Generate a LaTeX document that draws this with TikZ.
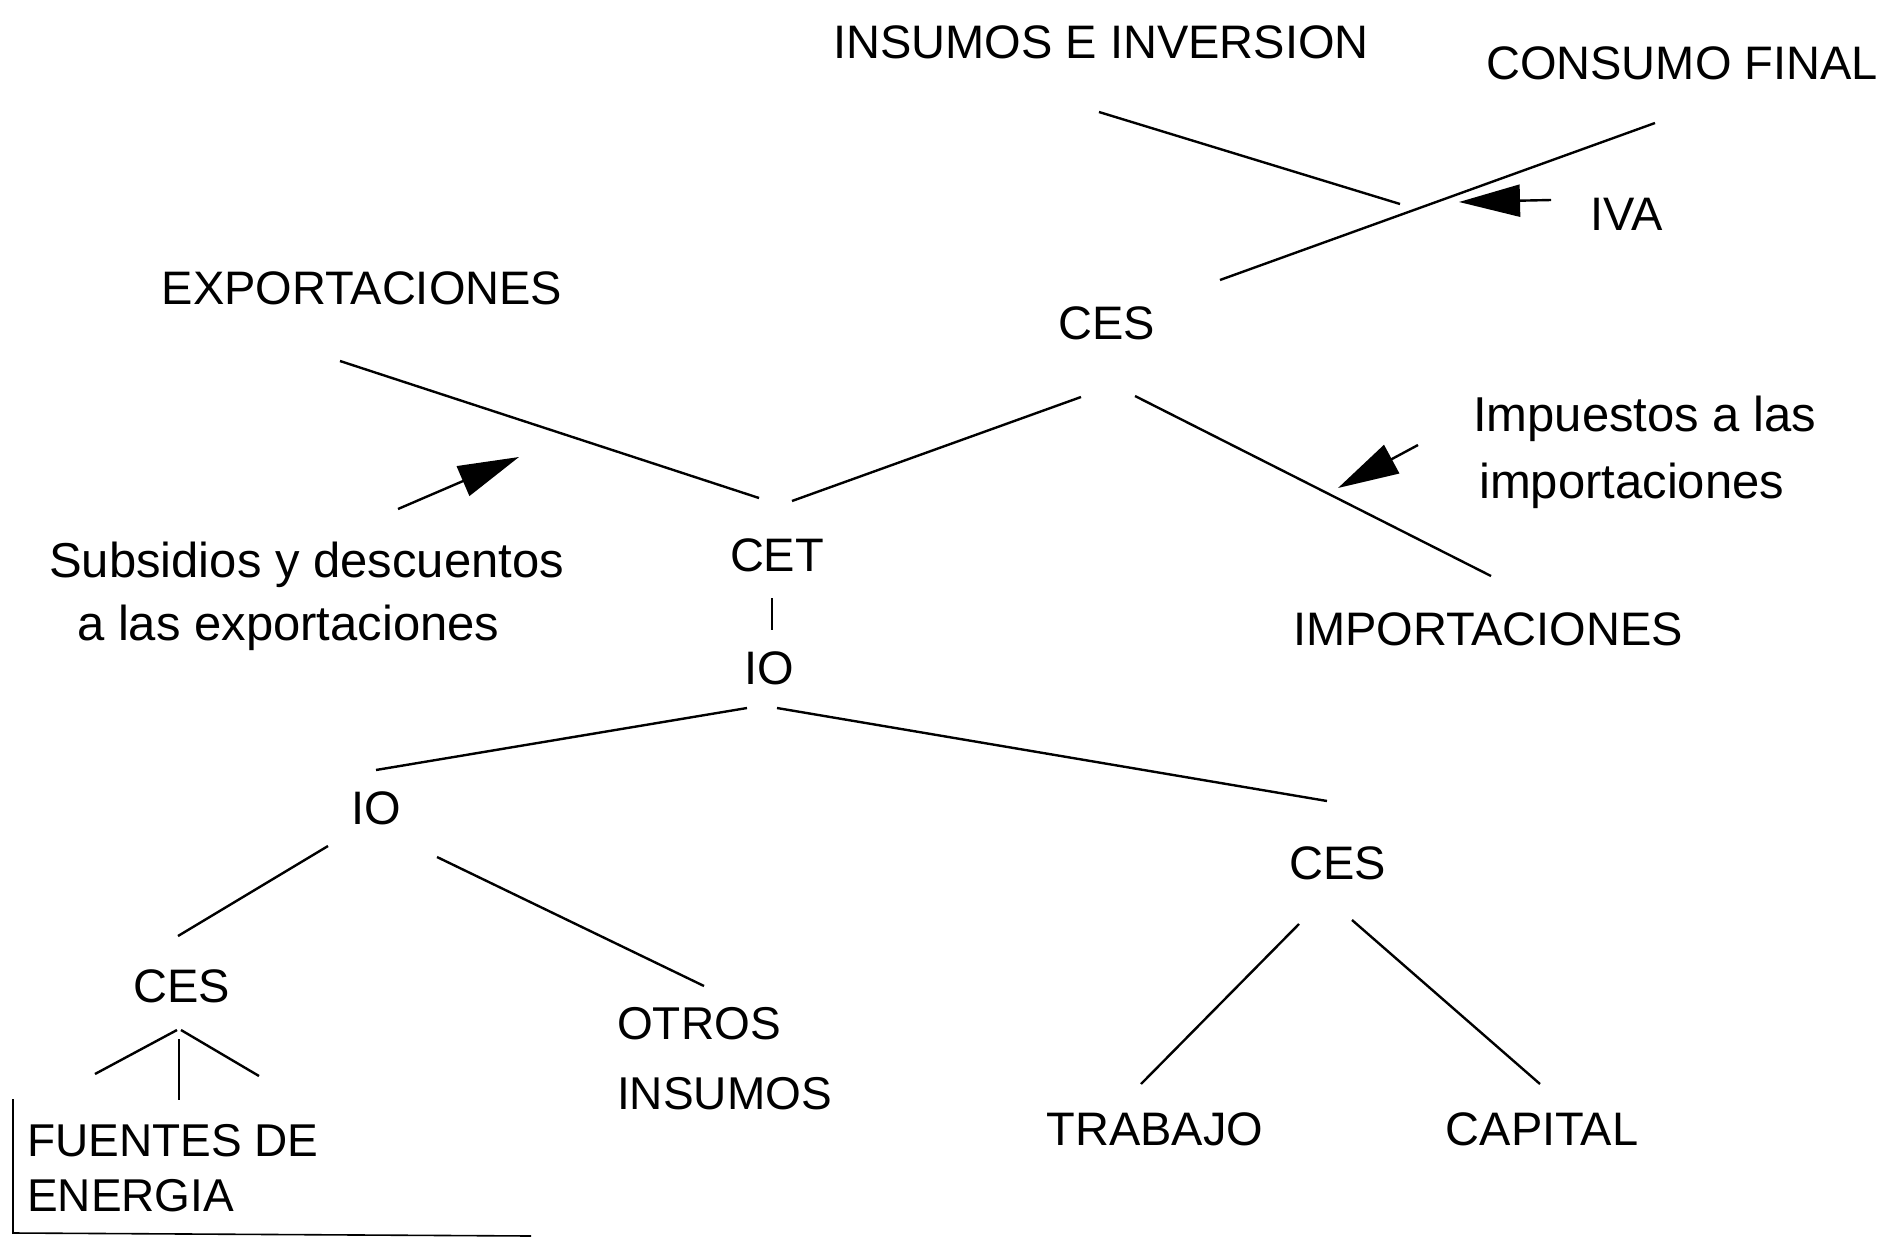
\documentclass[tikz,border=0pt]{standalone}
\usepackage{fontspec}
\setmainfont{Liberation Sans}
\usetikzlibrary{arrows.meta,calc}
\begin{document}
\begin{tikzpicture}[x=1pt,y=-1pt,
  lbl/.style={inner sep=0pt,font=\fontsize{47}{55}\selectfont},
  lbl2/.style={inner sep=0pt,font=\fontsize{49}{67}\selectfont},
  ln/.style={line width=2.4pt},
  arr/.style={line width=2.4pt,-{Triangle[length=61pt,width=32pt]}}]
\useasboundingbox (0,0) rectangle (1904,1239);
% nodes
\node[lbl] (ins) at (1101,42) {INSUMOS E INVERSION};
\node[lbl] (cons) at (1682,63) {CONSUMO FINAL};
\node[lbl] (iva) at (1627,214) {IVA};
\node[lbl] (exp) at (362,288) {EXPORTACIONES};
\node[lbl] (ces1) at (1107,323) {CES};
\node[lbl2,align=left,anchor=west] (imp) at (1473,452) {Impuestos a las\\\hspace*{6pt}importaciones};
\node[lbl2,align=left,anchor=west,font=\fontsize{49}{63}\selectfont] (sub) at (49,596) {Subsidios y descuentos\\\hspace*{28pt}a las exportaciones};
\node[lbl] (cet) at (777,555) {CET};
\node[lbl] (io1) at (769,668) {IO};
\node[lbl] (impo) at (1488,629) {IMPORTACIONES};
\node[lbl] (io2) at (376,808) {IO};
\node[lbl] (ces2) at (1338,863) {CES};
\node[lbl] (ces3) at (182,986) {CES};
\node[lbl,align=left,anchor=west,font=\fontsize{46}{70}\selectfont] (otros) at (617,1059) {OTROS\\INSUMOS};
\node[lbl,align=left,anchor=west,font=\fontsize{46}{55}\selectfont] (fuentes) at (27,1168) {FUENTES DE\\ENERGIA};
\node[lbl] (trab) at (1155,1129) {TRABAJO};
\node[lbl] (cap) at (1542,1129) {CAPITAL};
% free-end coordinates
\coordinate (ivatip) at (1459,202);
\coordinate (subtip) at (519,457);
\coordinate (imptip) at (1338,488);
\coordinate (c3l) at (95,1074);
\coordinate (c3r) at (259,1076);
% connectors
\draw[ln] ($(ins)+(-2,70)$) -- ($(ces1)+(293,-119)$);
\draw[ln] ($(cons)+(-27,60)$) -- ($(ces1)+(113,-43)$);
\draw[arr] ($(iva)+(-76,-14)$) -- (ivatip);
\draw[ln] ($(exp)+(-22,73)$) -- ($(cet)+(-18,-57)$);
\draw[ln] ($(cet)+(15,-54)$) -- ($(ces1)+(-26,74)$);
\draw[ln] ($(ces1)+(28,73)$) -- ($(impo)+(3,-53)$);
\draw[arr] (398,509) -- (subtip);
\draw[arr] ($(imp.west)+(-55,-7)$) -- (imptip);
\draw[ln] ($(cet)+(-5,43)$) -- ($(io1)+(3,-38)$);
\draw[ln] ($(io1)+(-22,40)$) -- ($(io2)+(0,-38)$);
\draw[ln] ($(io1)+(8,40)$) -- ($(ces2)+(-11,-62)$);
\draw[ln] ($(io2)+(-48,38)$) -- ($(ces3)+(-4,-50)$);
\draw[ln] ($(io2)+(61,49)$) -- ($(otros.west)+(87,-73)$);
\draw[ln] ($(ces2)+(-39,61)$) -- ($(trab)+(-14,-45)$);
\draw[ln] ($(ces2)+(14,57)$) -- ($(cap)+(-2,-45)$);
\draw[ln] ($(ces3)+(-5,44)$) -- (c3l);
\draw[ln] ($(ces3)+(-1,44)$) -- (c3r);
\draw[ln] ($(ces3)+(-3,53)$) -- ($(fuentes.west)+(152,-68)$);
% frame fragment
\draw[line width=1.6pt] (13,1099) -- (13,1233) -- (531,1236);
\end{tikzpicture}
\end{document}
